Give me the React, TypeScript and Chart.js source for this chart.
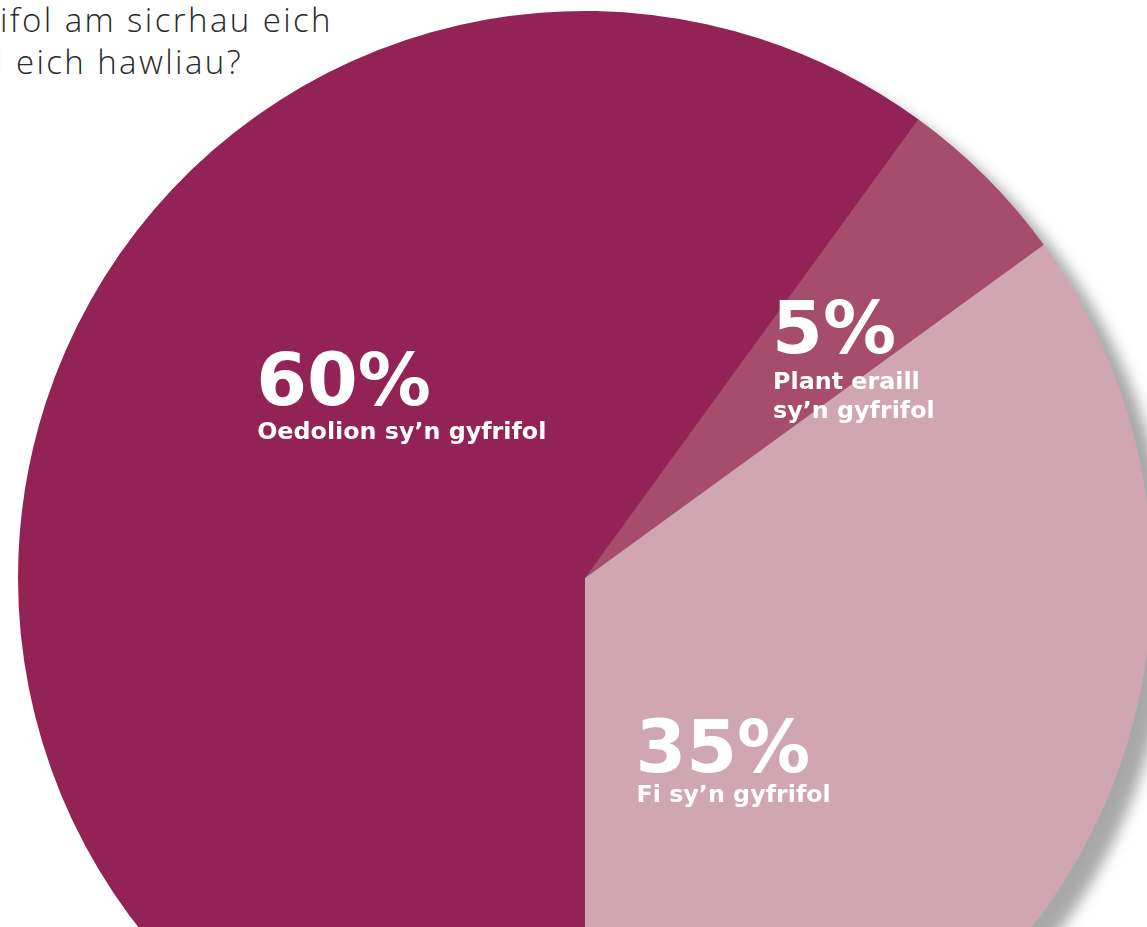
import React, { useEffect, useRef } from "react";
import { Chart, registerables } from "chart.js";

Chart.register(...registerables);

// ---- data ----
const categories = ["Oedolion sy’n gyfrifol", "Plant eraill sy’n gyfrifol", "Fi sy’n gyfrifol"];
const values = [60, 5, 35];
const labelLines = [["Oedolion sy’n gyfrifol"], ["Plant eraill", "sy’n gyfrifol"], ["Fi sy’n gyfrifol"]];
const sliceColors = ["#932354", "#A64C6D", "#D0A6B2"];
const titleLines = ["Pwy sy’n gyfrifol am sicrhau eich", "bod chi’n cael eich hawliau?"];

// ---- label layout (fractions of radius from pie centre; sub-line offsets in px) ----
const labelAnchorX = [-0.58, 0.33, 0.089];
const labelAnchorY = [-0.305, -0.397, 0.342];
const subOffsets = [[34], [36, 65], [30]];

const BIG_FONT = "bold 73px 'DejaVu Sans', sans-serif";
const SMALL_FONT = "bold 23.8px 'DejaVu Sans', sans-serif";

const shadowPlugin = {
  id: "pieShadow",
  beforeDatasetsDraw(chart: any) {
    const meta = chart.getDatasetMeta(0);
    const arc = meta.data[0];
    if (!arc) return;
    const { x, y, outerRadius } = arc.getProps(["x", "y", "outerRadius"], true);
    const ctx = chart.ctx;
    ctx.save();
    ctx.shadowColor = "rgba(0,0,0,0.34)";
    ctx.shadowBlur = 14;
    ctx.shadowOffsetX = 20;
    ctx.shadowOffsetY = 16;
    ctx.fillStyle = sliceColors[0];
    ctx.beginPath();
    ctx.arc(x, y, outerRadius - 1, 0, Math.PI * 2);
    ctx.fill();
    ctx.restore();
  },
};

const labelPlugin = {
  id: "sliceLabels",
  afterDatasetsDraw(chart: any) {
    const meta = chart.getDatasetMeta(0);
    const ctx = chart.ctx;
    ctx.save();
    ctx.fillStyle = "#ffffff";
    ctx.textAlign = "left";
    ctx.textBaseline = "alphabetic";
    meta.data.forEach((arc: any, i: number) => {
      const { x, y, outerRadius } = arc.getProps(["x", "y", "outerRadius"], true);
      const lx = x + labelAnchorX[i] * outerRadius;
      const ly = y + labelAnchorY[i] * outerRadius;
      ctx.font = BIG_FONT;
      ctx.fillText(`${values[i]}%`, lx, ly);
      ctx.font = SMALL_FONT;
      labelLines[i].forEach((line, j) => {
        ctx.fillText(line, lx + 1, ly + subOffsets[i][j]);
      });
    });
    ctx.restore();
  },
};

export default function App() {
  const ref = useRef<HTMLCanvasElement>(null);
  useEffect(() => {
    document.body.style.margin = "0";
    const canvas = ref.current!;
    const chart = new Chart(canvas, {
      type: "pie",
      data: {
        labels: categories,
        datasets: [
          {
            data: values,
            backgroundColor: sliceColors,
            borderWidth: 0,
          },
        ],
      },
      options: {
        responsive: false,
        animation: false,
        rotation: 180,
        layout: { padding: 0 },
        plugins: {
          legend: { display: false },
          tooltip: { enabled: false },
          title: { display: false },
        },
      },
      plugins: [shadowPlugin, labelPlugin],
    });
    (document as any).fonts?.ready?.then(() => chart.draw());
    return () => chart.destroy();
  }, []);

  const titleStyle: React.CSSProperties = {
    position: "absolute",
    whiteSpace: "nowrap",
    fontFamily: "'Open Sans', sans-serif",
    fontWeight: 300,
    fontSize: "33px",
    lineHeight: "32px",
    letterSpacing: "2.4px",
    color: "#2a2a2a",
  };

  return (
    <div
      style={{
        position: "absolute",
        left: 0,
        top: 0,
        width: 1147,
        height: 927,
        overflow: "hidden",
        background: "#ffffff",
      }}
    >
      <div style={{ ...titleStyle, right: 1147 - 333, top: 4 }}>{titleLines[0]}</div>
      <div style={{ ...titleStyle, right: 1147 - 243, top: 46 }}>{titleLines[1]}</div>
      <canvas
        ref={ref}
        width={1134}
        height={1134}
        style={{ position: "absolute", left: 18, top: 11, width: 1134, height: 1134 }}
      />
    </div>
  );
}
